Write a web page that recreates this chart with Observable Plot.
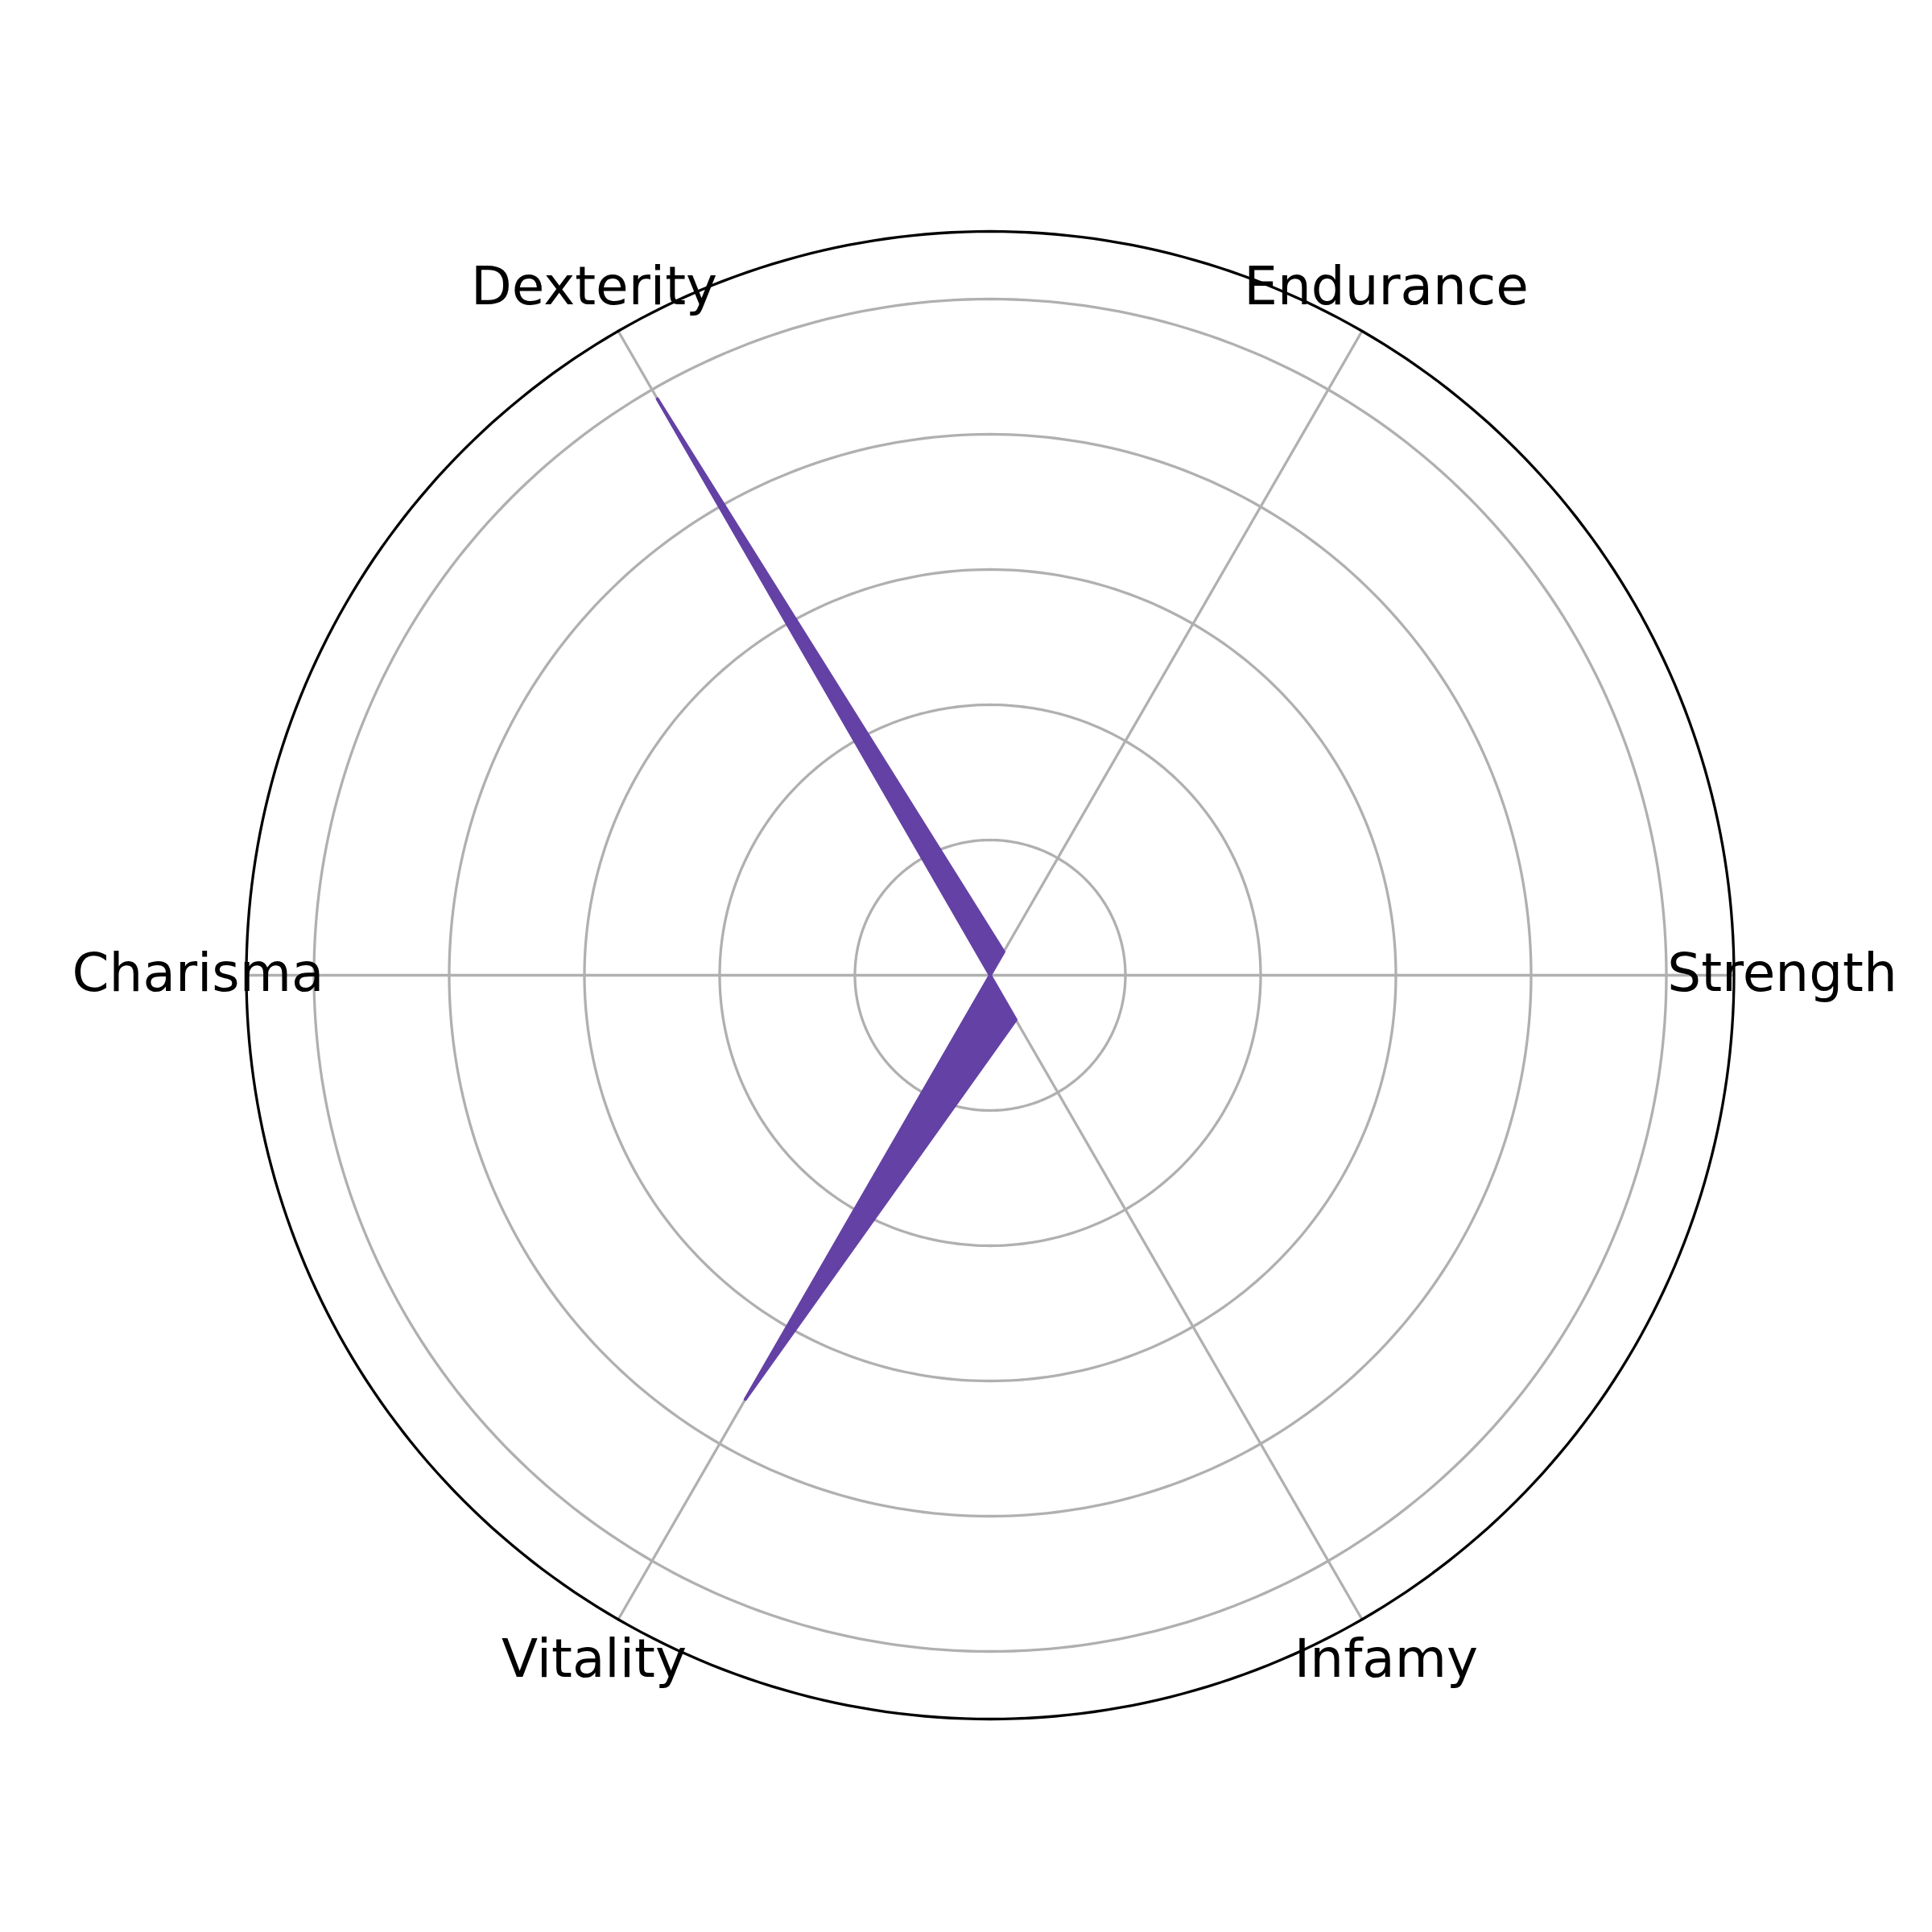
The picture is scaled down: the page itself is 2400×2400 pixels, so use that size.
<!DOCTYPE html>
<html>
<head>
<meta charset="utf-8">
<script src="https://cdn.jsdelivr.net/npm/d3@7"></script>
<script src="https://cdn.jsdelivr.net/npm/@observablehq/plot@0.6"></script>
<style>
  html, body { margin: 0; padding: 0; background: #ffffff; }
  #chart svg { display: block; }
</style>
</head>
<body>
<div id="chart"></div>
<script>
// ---- data ----
const categories = ["Strength", "Endurance", "Dexterity", "Charisma", "Vitality", "Infamy"];
const values = [0, 0.2, 4.92, 0, 3.62, 0.38];
const ringValues = [1, 2, 3, 4, 5];
const radialMax = 5.5;

// ---- layout ----
const W = 2400, H = 2400;
const unit = 168;          // pixels per data unit
const cx = 1229.5, cy = 1211;
const labelR = 984 / unit;

const n = categories.length;
const ang = i => (i * 2 * Math.PI) / n;

const polygon = categories.map((c, i) => ({ c, v: values[i], a: ang(i) }));
const spokes = categories.map((c, i) => ({ c, a: ang(i) }));
const degs = d3.range(0, 361, 1);
const rings = ringValues.flatMap(r => degs.map(d => ({ r, a: (d * Math.PI) / 180 })));
const spine = degs.map(d => ({ r: radialMax, a: (d * Math.PI) / 180 }));

const chart = Plot.plot({
  width: W,
  height: H,
  margin: 0,
  style: { background: "#ffffff", fontFamily: "DejaVu Sans" },
  x: { domain: [-cx / unit, (W - cx) / unit], axis: null },
  y: { domain: [-(H - cy) / unit, cy / unit], axis: null },
  marks: [
    Plot.line(rings, {
      x: d => d.r * Math.cos(d.a), y: d => d.r * Math.sin(d.a), z: "r",
      stroke: "#b0b0b0", strokeWidth: 3.3
    }),
    Plot.link(spokes, {
      x1: 0, y1: 0,
      x2: d => radialMax * Math.cos(d.a), y2: d => radialMax * Math.sin(d.a),
      stroke: "#b0b0b0", strokeWidth: 3.3
    }),
    Plot.line(polygon, {
      x: d => d.v * Math.cos(d.a), y: d => d.v * Math.sin(d.a),
      curve: "linear-closed",
      fill: "#6441a5", stroke: "#6441a5", strokeWidth: 4,
      strokeLinejoin: "round"
    }),
    Plot.line(spine, {
      x: d => d.r * Math.cos(d.a), y: d => d.r * Math.sin(d.a),
      stroke: "#000000", strokeWidth: 3.3
    }),
    Plot.text(spokes, {
      x: d => labelR * Math.cos(d.a), y: d => labelR * Math.sin(d.a),
      text: "c", fontSize: 66, fill: "#000000", dy: -2,
      textAnchor: "middle", lineAnchor: "middle", fontFamily: "DejaVu Sans"
    })
  ]
});
document.getElementById("chart").appendChild(chart);
</script>
</body>
</html>
